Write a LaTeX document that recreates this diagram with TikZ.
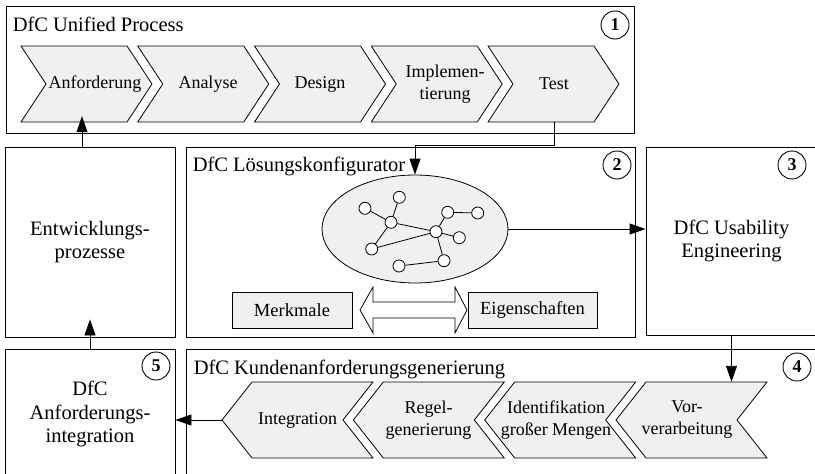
\documentclass[tikz,border=0pt]{standalone}
\usepackage{fontspec}
\setmainfont{Liberation Serif}
\usetikzlibrary{arrows.meta,shapes.geometric,backgrounds}

\definecolor{panel}{RGB}{240,240,240}

\tikzset{
  box/.style={draw, line width=0.9pt, inner sep=0pt},
  boxtext/.style={font=\fontsize{20.5}{23.5}\selectfont, align=center},
  title/.style={anchor=base west, inner sep=0pt, font=\fontsize{20.5}{23.5}\selectfont},
  badge/.style={draw, circle, line width=0.9pt, minimum size=28pt, inner sep=0pt,
    font=\fontsize{18}{18}\selectfont\bfseries},
  chevtext/.style={inner sep=0pt, minimum height=76pt, align=center,
    font=\fontsize{18}{22}\selectfont},
  chev/.style={draw, line width=0.8pt, fill=panel, line join=miter},
  arr/.style={draw, line width=0.9pt, -{Triangle[length=16pt,width=11pt]}},
  vertex/.style={circle, draw, fill=white, line width=0.8pt, minimum size=12pt, inner sep=0pt},
  edge/.style={draw, line width=0.8pt},
  tag/.style={draw, fill=panel, line width=0.8pt, inner sep=0pt, minimum height=36pt,
    font=\fontsize{18.5}{20}\selectfont},
}

\begin{document}
\begin{tikzpicture}[x=1pt,y=-1pt]
\useasboundingbox (0,0) rectangle (815,474);
\fill[white] (0,0) rectangle (815,474);
\clip (0,0) rectangle (815,474);

% ---- frames ----
\node[box, minimum width=628pt, minimum height=127pt] (up) at (320,69.5) {};
\node[box, boxtext, minimum width=170pt, minimum height=190pt] (entw) at (90,242) {Entwicklungs-\\prozesse};
\node[box, minimum width=449pt, minimum height=190pt] (konf) at (410.5,242) {};
\node[box, boxtext, minimum width=171pt, minimum height=188pt] (use) at (731.5,241) {DfC Usability\\Engineering};
\node[box, boxtext, minimum width=170pt, minimum height=130pt] (integ5) at (90,414) {DfC\\Anforderungs-\\integration};
\node[box, minimum width=634pt, minimum height=131pt] (kund) at (503,414.5) {};

\node[title] (t1) at ([xshift=7pt,yshift=-26pt]up.north west) {DfC Unified Process};
\node[title] (t2) at ([xshift=7pt,yshift=-25pt]konf.north west) {DfC Lösungskonfigurator};
\node[title] (t4) at ([xshift=8pt,yshift=-26pt]kund.north west) {DfC Kundenanforderungsgenerierung};

\node[badge] (b1) at (615,25) {1};
\node[badge] (b2) at (617,165) {2};
\node[badge] (b3) at (792,165) {3};
\node[badge] (b4) at (797,367) {4};
\node[badge] (b5) at (156,366) {5};

% ---- chevron outlines: forward row, then backward row ----
\foreach \x in {21,137.75,254.5,371.25,488}
  \draw[chev] (\x,46) -- (\x+106,46) -- (\x+131,84) -- (\x+106,122) -- (\x,122)
    -- (\x+25,84) -- cycle;
\foreach \x in {252,383.3,514.7,646}
  \draw[chev] (\x,382) -- (\x+121,382) -- (\x+91,420) -- (\x+121,458) -- (\x,458)
    -- (\x-30,420) -- cycle;

% ---- step labels ----
\node[chevtext] (anf) at (95,84) {Anforderung};
\node[chevtext] (ana) at (208,84) {Analyse};
\node[chevtext] (des) at (320,84) {Design};
\node[chevtext] (imp) at (445,84) {Implemen-\\tierung};
\node[chevtext] (tst) at (554,84) {Test};

\node[chevtext, minimum width=151pt] (intg) at (297.5,420) {Integration};
\node[chevtext] (reg) at (428.5,420) {Regel-\\generierung};
\node[chevtext] (ident) at (556,420) {Identifikation\\großer Mengen};
\node[chevtext] (vor) at (687,420) {Vor-\\verarbeitung};

% ---- configurator ----
\node[ellipse, draw, fill=panel, line width=0.8pt, minimum width=186pt, minimum height=108pt,
  inner sep=0pt] (cloud) at (415,229) {};

\node[vertex] (va) at (365,208.3) {};
\node[vertex] (vb) at (399.3,197.3) {};
\node[vertex] (vc) at (391,222.3) {};
\node[vertex] (vd) at (371.7,249) {};
\node[vertex] (ve) at (436,231.7) {};
\node[vertex] (vf) at (447.7,212.3) {};
\node[vertex] (vg) at (477.7,213) {};
\node[vertex] (vh) at (459.3,237.7) {};
\node[vertex] (vi) at (444,260.7) {};
\node[vertex] (vj) at (399,266) {};
\foreach \a/\b in {va/vc, vb/vc, vc/vd, vc/ve, vd/ve, ve/vf, vf/vg, ve/vh, ve/vi, vi/vj}
  \draw[edge] (\a) -- (\b);

\node[tag, minimum width=120pt] (mm) at (292,310) {Merkmale};
\node[tag, minimum width=129pt] (eig) at (532.5,310) {Eigenschaften};
\draw[line width=0.8pt, fill=white]
  (360,310) -- (373,287) -- (373,302) -- (455,302) -- (455,287) -- (467,310)
  -- (455,333) -- (455,318) -- (373,318) -- (373,333) -- cycle;

% ---- connectors ----
\draw[arr, shorten >=-6pt] ([xshift=-8pt]entw.north) -- ([xshift=-8pt]entw.north |- anf.south);
\draw[arr] (tst.south) -- ++(0,23) -| (cloud.north);
\draw[arr] (cloud.east) -- (cloud.east -| use.west);
\draw[arr] (use.south) -- (use.south |- vor.north);
\draw[arr] (intg.west) -- (intg.west -| integ5.east);
\draw[arr, shorten >=-18pt] (integ5.north) -- (entw.south);
\end{tikzpicture}
\end{document}
